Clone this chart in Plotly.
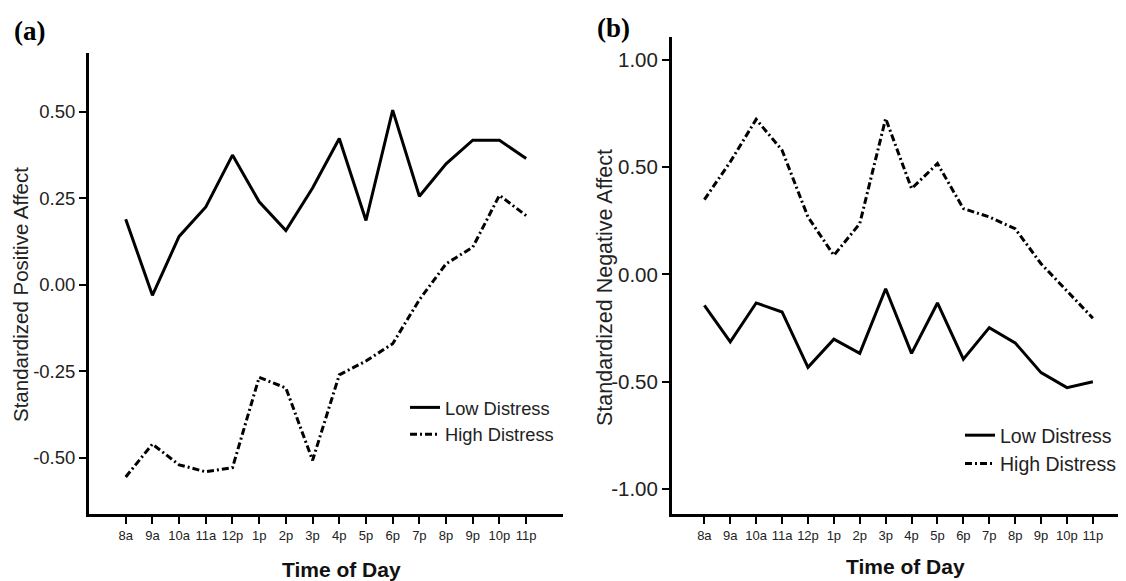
import plotly.graph_objects as go

# page body has an 8px margin; the figure is shrunk to fit the window
OFF = 8
W, H = 1126 - OFF, 581 - OFF

times = ["8a", "9a", "10a", "11a", "12p", "1p", "2p", "3p", "4p", "5p",
         "6p", "7p", "8p", "9p", "10p", "11p"]

# Panel (a): Standardized Positive Affect
pa_low = [0.19, -0.03, 0.14, 0.225, 0.375, 0.24, 0.157, 0.28, 0.423, 0.186,
          0.505, 0.256, 0.35, 0.418, 0.418, 0.365]
pa_high = [-0.555, -0.46, -0.52, -0.54, -0.528, -0.267, -0.298, -0.507, -0.26, -0.22,
           -0.17, -0.043, 0.061, 0.109, 0.259, 0.20]

# Panel (b): Standardized Negative Affect
na_low = [-0.144, -0.314, -0.133, -0.175, -0.433, -0.302, -0.368, -0.067, -0.368, -0.133,
          -0.395, -0.248, -0.319, -0.458, -0.528, -0.50]
na_high = [0.349, 0.525, 0.723, 0.579, 0.268, 0.089, 0.237, 0.727, 0.40, 0.517,
           0.307, 0.268, 0.213, 0.05, -0.077, -0.204]

ticks_a = [-0.50, -0.25, 0.00, 0.25, 0.50]
ticklabels_a = ["-0.50", "-0.25", "0.00", "0.25", "0.50"]
ticks_b = [-1.00, -0.50, 0.00, 0.50, 1.00]
ticklabels_b = ["-1.00", "-0.50", "0.00", "0.50", "1.00"]

SANS = "Liberation Sans, Arial, sans-serif"
SERIF = "Liberation Serif, Times New Roman, serif"
DASHDOT = "7px,3px,2px,3px"

fig = go.Figure()

fig.add_trace(go.Scatter(x=times, y=pa_low, mode="lines", name="Low Distress",
                         line=dict(color="black", width=3), xaxis="x", yaxis="y",
                         legend="legend"))
fig.add_trace(go.Scatter(x=times, y=pa_high, mode="lines", name="High Distress",
                         line=dict(color="black", width=3, dash=DASHDOT), xaxis="x", yaxis="y",
                         legend="legend"))
fig.add_trace(go.Scatter(x=times, y=na_low, mode="lines", name="Low Distress",
                         line=dict(color="black", width=3), xaxis="x2", yaxis="y2",
                         legend="legend2"))
fig.add_trace(go.Scatter(x=times, y=na_high, mode="lines", name="High Distress",
                         line=dict(color="black", width=3, dash=DASHDOT), xaxis="x2", yaxis="y2",
                         legend="legend2"))


def px_x(p):
    return (p - OFF) / W


def px_y(p):
    return (H - (p - OFF)) / H


def xaxis_style():
    return dict(type="category", showline=True, linecolor="black", linewidth=3,
                ticks="outside", ticklen=7, tickwidth=1.5, tickcolor="black",
                showgrid=False, zeroline=False,
                tickfont=dict(family=SANS, size=13, color="#222"))


def yaxis_style(size):
    return dict(showline=True, linecolor="black", linewidth=3,
                ticks="outside", ticklen=7, tickwidth=1.5, tickcolor="black",
                showgrid=False, zeroline=False,
                tickfont=dict(family=SANS, size=size, color="#222"))


def center_ann(text, x, y, font, angle=0):
    return dict(text=text, x=px_x(x), y=px_y(y), xref="paper", yref="paper",
                xanchor="center", yanchor="middle", textangle=angle,
                showarrow=False, font=font)


fig.update_layout(
    width=W, height=H,
    margin=dict(l=0, r=0, t=0, b=0),
    paper_bgcolor="white", plot_bgcolor="white",
    xaxis=dict(domain=[px_x(89), px_x(563)], range=[-1.375, 16.38], anchor="y", **xaxis_style()),
    yaxis=dict(domain=[px_y(514), px_y(53)], range=[-0.662, 0.67], anchor="x",
               tickvals=ticks_a, ticktext=ticklabels_a, **yaxis_style(18.5)),
    xaxis2=dict(domain=[px_x(672), 1.0], range=[-1.25, 16.28], anchor="y2", **xaxis_style()),
    yaxis2=dict(domain=[px_y(514), px_y(37)], range=[-1.117, 1.107], anchor="x2",
                tickvals=ticks_b, ticktext=ticklabels_b, **yaxis_style(20.5)),
    legend=dict(x=px_x(405), y=px_y(389), xanchor="left", yanchor="top",
                bgcolor="rgba(0,0,0,0)", font=dict(family=SANS, size=18.3, color="#222"),
                tracegroupgap=0),
    legend2=dict(x=px_x(960), y=px_y(416), xanchor="left", yanchor="top",
                 bgcolor="rgba(0,0,0,0)", font=dict(family=SANS, size=19.5, color="#222"),
                 tracegroupgap=0),
    annotations=[
        center_ann("<b>(a)</b>", 29, 31, dict(family=SERIF, size=27, color="black")),
        center_ann("<b>(b)</b>", 613, 28, dict(family=SERIF, size=27, color="black")),
        center_ann("<b>Time of Day</b>", 341, 569, dict(family=SANS, size=21, color="#111")),
        center_ann("<b>Time of Day</b>", 905, 566, dict(family=SANS, size=21, color="#111")),
        center_ann("Standardized Positive Affect", 20, 295,
                   dict(family=SANS, size=20.5, color="#222"), angle=-90),
        center_ann("Standardized Negative Affect", 605, 288,
                   dict(family=SANS, size=21.5, color="#222"), angle=-90),
    ],
)

fig.write_html("out.html")
